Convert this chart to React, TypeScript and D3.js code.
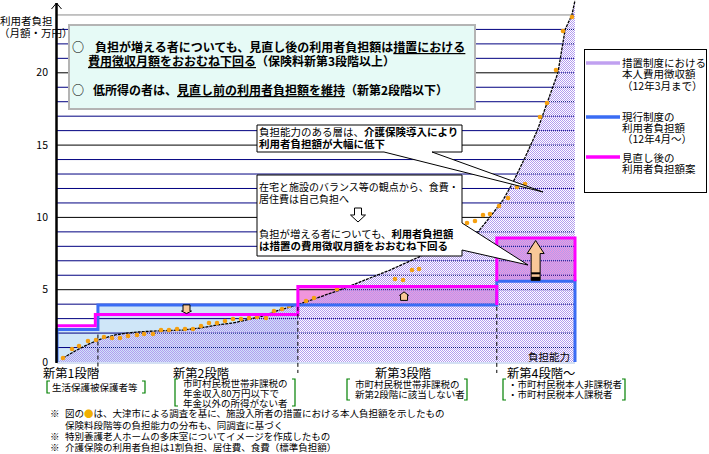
import React from 'react';
import * as d3 from 'd3';

// ---- data ----
const capacity = [0, 1.16, 3.86, 5.79, 7.92, 11.2, 13.5, 15.4, 18.5, 24.3, 27.6, 30.9, 34.0, 37.3, 40.5, 41.7, 46.3, 54.6, 64.3, 70.7, 81.1, 83.6, 86.1, 88.0, 90.3, 92.7, 93.6, 96.7, 98.1, 99.4, 100];
const costUnderMeasures = [0, 0.28, 0.83, 1.18, 1.52, 1.87, 2.0, 2.07, 2.14, 2.21, 2.35, 2.56, 2.7, 2.97, 3.25, 3.46, 3.94, 4.98, 6.36, 7.4, 8.92, 10.03, 11.2, 12.4, 14.1, 16.0, 16.9, 20.0, 23.0, 24.0, 25.0];
const dotCapacity = [1.16, 2.9, 4.25, 5.98, 7.53, 9.07, 10.62, 12.16, 13.71, 15.44, 16.8, 18.53, 20.08, 21.62, 23.17, 24.71, 26.25, 27.8, 29.34, 30.89, 32.43, 33.98, 35.52, 37.07, 38.61, 40.35, 41.89, 43.44, 44.79, 48.07, 49.61, 54.05, 65.25, 66.8, 68.53, 69.88, 79.15, 80.69, 82.24, 83.59, 85.33, 87.07, 88.8, 90.35, 93.24, 94.59, 96.33, 97.68, 99.42];
const dotCost = [0.28, 0.9, 1.11, 1.45, 1.52, 1.73, 1.66, 1.66, 1.8, 1.87, 1.94, 1.94, 2.21, 2.21, 2.28, 2.28, 2.28, 2.49, 2.7, 2.7, 2.84, 2.97, 2.97, 3.04, 3.11, 3.04, 3.53, 3.67, 3.87, 4.22, 4.43, 5.05, 5.74, 5.67, 6.36, 6.43, 9.61, 9.75, 10.17, 10.24, 10.79, 11.34, 12.1, 12.31, 16.94, 17.91, 20.19, 22.89, 23.86];
const stageBounds = [0, 7.9, 46.5, 84.9, 100];
const revisedBounds = [0, 7.4, 46.5, 84.9, 100];
const currentBurden = [2.25, 3.95, 3.95, 5.58];
const revisedBurden = [2.5, 3.28, 5.22, 8.58];
const yTickValues = [0, 5, 10, 15, 20];
const gridValues = d3.range(1, 25);
const stageNames = ['新第1段階', '新第2段階', '新第3段階', '新第4段階～'];
const stageDescriptions = [
  ['生活保護被保護者等'],
  ['市町村民税世帯非課税の', '年金収入80万円以下で', '年金以外の所得がない者'],
  ['市町村民税世帯非課税の', '新第2段階に該当しない者'],
  ['・市町村民税本人非課税者', '・市町村民税本人課税者'],
];
const legendLabels = [
  ['措置制度における', '本人費用徴収額', '（12年3月まで）'],
  ['現行制度の', '利用者負担額', '（12年4月～）'],
  ['見直し後の', '利用者負担額案'],
];

const FONT = '"Noto Sans CJK JP", "Noto Sans", sans-serif';
const NAVY = '#000080';
const BLUE = '#3a6cf4';
const MAGENTA = '#ff00ff';
const LAVENDER = '#c0a0f0';
const ORANGE = '#f5a010';
const PINK = '#f096dc';
const LIGHTBLUE = '#cfe6f8';
const HATCH = '#b49cf0';

type P = [number, number];

function blockArrow(cx: number, yTail: number, yTip: number, sh: number, hh: number, hl: number) {
  const dir = yTip < yTail ? -1 : 1;
  const yNeck = yTip - dir * hl;
  return `M${cx - sh},${yTail} L${cx - sh},${yNeck} L${cx - hh},${yNeck} L${cx},${yTip} L${cx + hh},${yNeck} L${cx + sh},${yNeck} L${cx + sh},${yTail} Z`;
}

function stepPoints(bounds: number[], vals: number[]): P[] {
  const pts: P[] = [];
  vals.forEach((v, i) => {
    pts.push([bounds[i], v]);
    pts.push([bounds[i + 1], v]);
  });
  return pts;
}

function bracket(x0: number, x1: number, y0: number, y1: number) {
  return `M${x0 + 3},${y0} H${x0} V${y1} H${x0 + 3} M${x1 - 3},${y0} H${x1} V${y1} H${x1 - 3}`;
}

export default function App() {
  const x = d3.scaleLinear().domain([0, 100]).range([57, 575]);
  const y = d3.scaleLinear().domain([0, 25]).range([362, 0.5]);

  const pts: P[] = capacity.map((c, i) => [c, costUnderMeasures[i]]);
  const areaGen = d3.area<P>().x(d => x(d[0])).y0(y(0)).y1(d => y(d[1]));
  const aboveGen = d3.area<P>().x(d => x(d[0])).y0(-20).y1(d => y(d[1]));
  const lineGen = d3.line<P>().x(d => x(d[0])).y(d => y(d[1]));

  const bluePts: P[] = [[0, 0], ...stepPoints(stageBounds, currentBurden), [100, 0]];
  const mag1: P[] = [...stepPoints(revisedBounds.slice(0, 4), revisedBurden.slice(0, 3)), [stageBounds[3], currentBurden[2]]];
  const mag2: P[] = [
    [stageBounds[3], currentBurden[3]],
    [stageBounds[3], revisedBurden[3]],
    [stageBounds[4], revisedBurden[3]],
    [stageBounds[4], currentBurden[3]],
  ];

  const stageLabelX = [43, 173, 375, 507];
  const descX = [52, 183, 355, 508];
  const descY = [387, 383, 384, 384];
  const brackets = [
    [47, 145, 381, 393],
    [175, 295, 379, 406],
    [347, 467, 379, 400],
    [503, 625, 379, 400],
  ];

  const smallDown = blockArrow(x(25), y(currentBurden[1]), y(3.35), 3.5, 5, 2.5);
  const smallUp = blockArrow(x(67), y(4.26), y(4.85), 3.5, 4.5, 3.5);
  const bigTail = y(currentBurden[3]) - 1;
  const bigUp = blockArrow(x(92.4), bigTail, y(8.4), 4.5, 8.5, 13);

  return (
    <svg width={709} height={454} style={{ position: 'absolute', left: 0, top: 0, background: '#fff' }} fontFamily={FONT}>
      <defs>
        <pattern id="hatch" width={2} height={2} patternUnits="userSpaceOnUse">
          <rect x={0} y={0} width={1} height={1} fill={HATCH} />
          <rect x={1} y={1} width={1} height={1} fill={HATCH} />
        </pattern>
        <clipPath id="above"><path d={aboveGen(pts) || ''} /></clipPath>
        <clipPath id="under"><path d={areaGen(pts) || ''} /></clipPath>
      </defs>

      {/* fills */}
      {[0, 1].map(i => (
        <rect key={'lb' + i} x={x(stageBounds[i])} y={y(currentBurden[i])} width={x(stageBounds[i + 1]) - x(stageBounds[i])} height={y(0) - y(currentBurden[i])} fill={LIGHTBLUE} />
      ))}
      {[2, 3].map(i => (
        <rect key={'pk' + i} x={x(stageBounds[i])} y={y(revisedBurden[i])} width={x(stageBounds[i + 1]) - x(stageBounds[i])} height={y(currentBurden[i]) - y(revisedBurden[i])} fill={PINK} />
      ))}

      {/* gridlines */}
      <g clipPath="url(#above)">
        {gridValues.map(v => (
          <line key={'g' + v} x1={x(0)} x2={x(100)} y1={y(v)} y2={y(v)} stroke={v === 24 ? '#8a8a8a' : v % 5 === 0 ? '#000' : NAVY} strokeWidth={1} />
        ))}
      </g>

      {/* area of measures-era cost */}
      <path d={areaGen(pts) || ''} fill="url(#hatch)" />
      <g clipPath="url(#under)">
        {gridValues.map(v => (
          <line key={'d' + v} x1={x(0)} x2={x(100)} y1={y(v)} y2={y(v)} stroke={NAVY} strokeWidth={1} strokeDasharray="1 1" />
        ))}
      </g>
      <path d={lineGen(pts.slice(1)) || ''} fill="none" stroke="#000" strokeWidth={1.3} strokeDasharray="3 1" />
      <line x1={x(0)} x2={x(100)} y1={y(0) + 1} y2={y(0) + 1} stroke="#a8c0e8" strokeWidth={1} />

      {/* orange survey dots */}
      {dotCapacity.map((c, i) => (
        <circle key={'dot' + i} cx={x(c)} cy={y(dotCost[i])} r={2.3} fill={ORANGE} />
      ))}

      {/* step lines */}
      <path d={lineGen(bluePts) || ''} fill="none" stroke={BLUE} strokeWidth={3} />
      <path d={lineGen(mag1) || ''} fill="none" stroke={MAGENTA} strokeWidth={3} />
      <path d={lineGen(mag2) || ''} fill="none" stroke={MAGENTA} strokeWidth={3} />

      {/* stage dividers */}
      <line x1={x(stageBounds[1])} x2={x(stageBounds[1])} y1={y(1.9)} y2={373} stroke="#000" strokeDasharray="4 3" />
      <line x1={x(stageBounds[2])} x2={x(stageBounds[2])} y1={y(currentBurden[2]) + 2} y2={373} stroke="#000" strokeDasharray="4 3" />
      <line x1={x(stageBounds[3])} x2={x(stageBounds[3])} y1={y(currentBurden[2]) + 2} y2={373} stroke="#000" strokeDasharray="4 3" />

      {/* arrows */}
      <path d={smallDown} fill="#f8c898" stroke="#000" strokeWidth={1} />
      <path d={smallUp} fill="#f8c898" stroke="#000" strokeWidth={1} />
      <path d={bigUp} fill="#f8c898" stroke="#000" strokeWidth={1} />
      <rect x={x(92.4) - 4.5} y={bigTail - 8} width={9} height={2} fill="#000" />
      <rect x={x(92.4) - 4.5} y={bigTail - 3.5} width={9} height={3.5} fill="#000" />

      {/* y axis */}
      <line x1={56.5} x2={56.5} y1={3} y2={363} stroke="#000" strokeWidth={2.5} />
      <path d="M51.5,9 L56.5,3 L61.5,9" fill="none" stroke="#000" strokeWidth={1} />
      {yTickValues.map(v => (
        <text key={'t' + v} x={48} y={y(v) - 1} textAnchor="end" dominantBaseline="central" fontSize={10.5}>{v}</text>
      ))}
      <text x={0} y={20} fontSize={10.5} dominantBaseline="central">利用者負担</text>
      <text x={-1} y={32} fontSize={10.5} dominantBaseline="central">（月額・万円）</text>
      <text x={570} y={356} fontSize={10.5} textAnchor="end" dominantBaseline="central">負担能力</text>

      {/* info box */}
      <rect x={69} y={25} width={406} height={84} fill="#e6faf6" stroke="#b4b4b4" strokeWidth={2} />
      <g fontSize={12} fontWeight="bold">
        <text x={72} y={46} dominantBaseline="central">○</text>
        <text x={95} y={46} dominantBaseline="central">負担が増える者についても、見直し後の利用者負担額は<tspan textDecoration="underline">措置における</tspan></text>
        <text x={88} y={60} dominantBaseline="central"><tspan textDecoration="underline">費用徴収月額をおおむね下回る</tspan>（保険料新第3段階以上）</text>
        <text x={72} y={89} dominantBaseline="central">○</text>
        <text x={93} y={89} dominantBaseline="central">低所得の者は、<tspan textDecoration="underline">見直し前の利用者負担額を維持</tspan>（新第2段階以下）</text>
      </g>

      {/* callout 1 */}
      <path d="M257,125 H462 V152 H432 L543,192 L384,152 H257 Z" fill="#fff" stroke="#000" strokeWidth={1} />
      <g fontSize={10.5}>
        <text x={259} y={131} dominantBaseline="central">負担能力のある層は、<tspan fontWeight="bold">介護保険導入により</tspan></text>
        <text x={259} y={143} dominantBaseline="central" fontWeight="bold">利用者負担額が大幅に低下</text>
      </g>

      {/* callout 2 */}
      <path d="M257,175 H462 V223 L528,265 L462,250 V256 H257 Z" fill="#fff" stroke="#000" strokeWidth={1} />
      <g fontSize={10}>
        <text x={259} y={186} dominantBaseline="central">在宅と施設のバランス等の観点から、食費・</text>
        <text x={259} y={198} dominantBaseline="central">居住費は自己負担へ</text>
        <path d="M354.5,208 H361.5 V215 H365.5 L358,222 L350.5,215 H354.5 Z" fill="#fff" stroke="#000" strokeWidth={1} />
        <text x={259} y={233} dominantBaseline="central" fontSize={10.3}>負担が増える者についても、<tspan fontWeight="bold">利用者負担額</tspan></text>
        <text x={259} y={245} dominantBaseline="central" fontSize={10.5} fontWeight="bold">は措置の費用徴収月額をおおむね下回る</text>
      </g>

      {/* legend */}
      <rect x={584.5} y={49.5} width={122} height={143} fill="#fff" stroke="#000" strokeWidth={1} />
      {[LAVENDER, BLUE, MAGENTA].map((c, i) => (
        <line key={'ll' + i} x1={586} x2={620} y1={[63, 117, 157][i]} y2={[63, 117, 157][i]} stroke={c} strokeWidth={3.5} />
      ))}
      {legendLabels.map((lines, i) => (
        <g key={'lg' + i}>
          {lines.map((t, j) => (
            <text key={j} x={622} y={[62.5, 116, 157.5][i] + j * 11.3} fontSize={10.5} dominantBaseline="central">{t}</text>
          ))}
        </g>
      ))}

      {/* stage labels & descriptions */}
      {stageNames.map((s, i) => (
        <text key={'sn' + i} x={stageLabelX[i]} y={373} fontSize={12.3} dominantBaseline="central">{s}</text>
      ))}
      {brackets.map((b, i) => (
        <path key={'br' + i} d={bracket(b[0], b[1], b[2], b[3])} fill="none" stroke="#008000" strokeWidth={1.2} />
      ))}
      {stageDescriptions.map((lines, i) => (
        <g key={'sd' + i}>
          {lines.map((t, j) => (
            <text key={j} x={descX[i]} y={descY[i] + j * 10} fontSize={9.5} dominantBaseline="central">{t}</text>
          ))}
        </g>
      ))}

      {/* footnotes */}
      <g fontSize={9.5}>
        <text x={50} y={413} dominantBaseline="central">※</text>
        <text x={65} y={413} dominantBaseline="central">図の<tspan fill="#f0b000">●</tspan>は、大津市による調査を基に、施設入所者の措置における本人負担額を示したもの</text>
        <text x={65} y={424.5} dominantBaseline="central">保険料段階等の負担能力の分布も、同調査に基づく</text>
        <text x={50} y={436} dominantBaseline="central">※</text>
        <text x={65} y={436} dominantBaseline="central">特別養護老人ホームの多床室についてイメージを作成したもの</text>
        <text x={50} y={446.5} dominantBaseline="central">※</text>
        <text x={65} y={446.5} dominantBaseline="central">介護保険の利用者負担は1割負担、居住費、食費（標準負担額）</text>
      </g>
    </svg>
  );
}
